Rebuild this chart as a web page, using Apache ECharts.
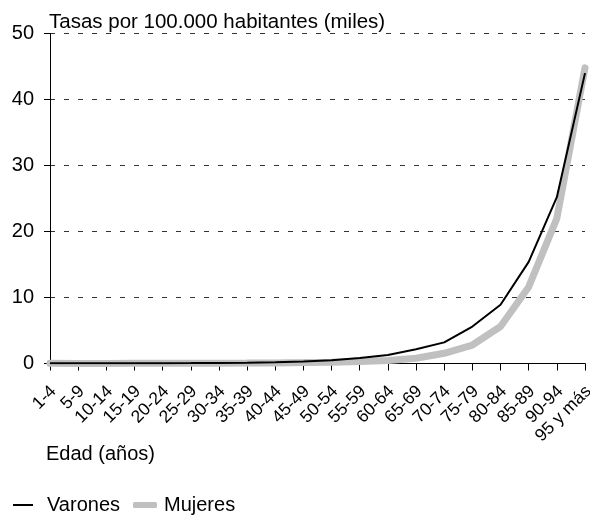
<!DOCTYPE html>
<html>
<head>
<meta charset="utf-8">
<script src="https://cdn.jsdelivr.net/npm/echarts@6/dist/echarts.min.js"></script>
<style>html,body{margin:0;padding:0;background:#fff}#c{width:590px;height:515px}</style>
</head>
<body>
<div id="c"></div>
<script>
const categories = ['1-4','5-9','10-14','15-19','20-24','25-29','30-34','35-39','40-44','45-49','50-54','55-59','60-64','65-69','70-74','75-79','80-84','85-89','90-94','95 y más'];
const varones = [0.03,0.02,0.02,0.04,0.05,0.06,0.08,0.12,0.18,0.3,0.5,0.85,1.3,2.15,3.2,5.6,8.9,15.4,25.2,44.0];
const mujeres = [0.02,0.01,0.01,0.02,0.02,0.03,0.04,0.06,0.09,0.14,0.2,0.3,0.45,0.8,1.55,2.8,5.6,11.6,22.0,44.8];
const yTicks = [0,10,20,30,40,50];

const font = 'Liberation Sans, Arial, sans-serif';
const txt = {fontFamily:font, fontSize:20.5, fontWeight:'normal', color:'#000'};
const chart = echarts.init(document.getElementById('c'), null, {renderer:'canvas'});
chart.setOption({
  animation:false,
  backgroundColor:'#fff',
  textStyle:{fontFamily:font, color:'#000'},
  title:[
    {text:'Tasas por 100.000 habitantes (miles)', left:44, top:7, textStyle:txt},
    {text:'Edad (años)', left:41, top:439, textStyle:{fontFamily:font, fontSize:20, fontWeight:'normal', color:'#000'}}
  ],
  legend:[
    {left:8, top:490, itemWidth:20, itemHeight:2, icon:'rect',
     textStyle:{fontFamily:font, fontSize:20, color:'#000', padding:[0,0,0,9]},
     data:[{name:'Varones', itemStyle:{color:'#000'}}]},
    {left:128, top:490, itemWidth:24, itemHeight:6, icon:'roundRect',
     textStyle:{fontFamily:font, fontSize:20, color:'#000', padding:[0,0,0,2]},
     data:[{name:'Mujeres', itemStyle:{color:'#c0c0c0'}}]}
  ],
  grid:{left:50, right:5, top:33.5, bottom:151.5, containLabel:false, outerBoundsMode:'none'},
  xAxis:{
    type:'category', data:categories, boundaryGap:false,
    axisLine:{lineStyle:{color:'#000', width:1}},
    axisTick:{show:true, length:7, lineStyle:{color:'#000'}},
    axisLabel:{rotate:45, fontSize:17.5, color:'#000', fontFamily:font, margin:16, interval:0,
               verticalAlign:'top', align:'right', padding:[0,4,0,0]}
  },
  yAxis:{
    type:'value', min:yTicks[0], max:yTicks[yTicks.length-1], interval:10,
    axisLine:{show:true, lineStyle:{color:'#000', width:1}},
    axisTick:{show:true, length:6, lineStyle:{color:'#000'}},
    axisLabel:{fontSize:20, color:'#000', fontFamily:font, margin:16},
    splitLine:{show:true, lineStyle:{color:'#333', type:[5,9], width:1}}
  },
  series:[
    {name:'Varones', type:'line', data:varones, symbol:'none', z:3,
     lineStyle:{color:'#000', width:2}, itemStyle:{color:'#000'}},
    {name:'Mujeres', type:'line', data:mujeres, symbol:'none', z:2,
     lineStyle:{color:'#c0c0c0', width:7, cap:'round'}, itemStyle:{color:'#c0c0c0'}}
  ]
});
</script>
</body>
</html>
